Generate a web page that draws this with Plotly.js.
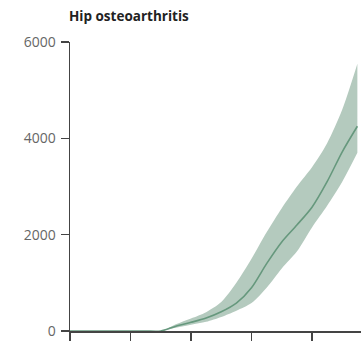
<!DOCTYPE html>
<html>
<head>
<meta charset="utf-8">
<script src="https://cdn.plot.ly/plotly-3.0.1.min.js"></script>
<style>
  html, body { margin: 0; padding: 0; background: #ffffff; }
  #chart { width: 361px; height: 342px; }
</style>
</head>
<body>
<div id="chart"></div>
<script>
// Age (years) at which each estimate is given
const ages = [0, 5, 10, 15, 20, 25, 30, 35, 40, 45, 50, 55, 60, 65, 70, 75, 80, 85, 90, 95];
// Central estimate
const meanValues = [0, 0, 0, 0, 0, 0, 0, 100, 180, 270, 400, 580, 900, 1400, 1850, 2200, 2570, 3100, 3720, 4250];
// Uncertainty interval bounds
const lowerValues = [0, 0, 0, 0, 0, 0, 0, 70, 130, 190, 290, 420, 580, 900, 1300, 1650, 2150, 2600, 3100, 3700];
const upperValues = [0, 0, 0, 0, 0, 0, 0, 140, 260, 390, 600, 1000, 1500, 2050, 2550, 3000, 3400, 3900, 4600, 5550];

const yTickVals = [0, 2000, 4000, 6000];
const yTickText = ['0', '2000', '4000', '6000'];
const xTickVals = [0, 20, 40, 60, 80];

const chartTitle = 'Hip osteoarthritis';

const traces = [
  {
    x: ages, y: lowerValues, type: 'scatter', mode: 'lines',
    line: { width: 0, color: 'rgba(0,0,0,0)', shape: 'spline', smoothing: 0.8 },
    hoverinfo: 'skip', showlegend: false
  },
  {
    x: ages, y: upperValues, type: 'scatter', mode: 'lines',
    fill: 'tonexty', fillcolor: '#b4cabe',
    line: { width: 0, color: 'rgba(0,0,0,0)', shape: 'spline', smoothing: 0.8 },
    hoverinfo: 'skip', showlegend: false
  },
  {
    x: ages, y: meanValues, type: 'scatter', mode: 'lines',
    line: { width: 1.6, color: '#66987d', shape: 'spline', smoothing: 0.8 },
    cliponaxis: false,
    showlegend: false
  }
];

const layout = {
  width: 361, height: 342,
  margin: { l: 70, r: 0, t: 42, b: 11, pad: 0 },
  paper_bgcolor: '#ffffff', plot_bgcolor: '#ffffff',
  font: { family: '"Open Sans", "Noto Sans", sans-serif', color: '#555' },
  title: {
    text: '<b>' + chartTitle + '</b>',
    font: { size: 13.5, color: '#222', family: '"Open Sans", sans-serif' },
    x: 69 / 361, xref: 'container', xanchor: 'left',
    y: 1 - 16 / 342, yref: 'container', yanchor: 'middle'
  },
  xaxis: {
    range: [0, 96.2], fixedrange: true,
    showgrid: false, zeroline: false, layer: 'below traces',
    showline: true, linecolor: '#444', linewidth: 1.5,
    ticks: 'outside', ticklen: 8, tickwidth: 1.5, tickcolor: '#444',
    tickvals: xTickVals, showticklabels: false
  },
  yaxis: {
    range: [0, 6000], fixedrange: true,
    showgrid: false, zeroline: false, layer: 'below traces',
    showline: true, linecolor: '#444', linewidth: 1.5,
    ticks: 'outside', ticklen: 8, tickwidth: 1.5, tickcolor: '#444',
    tickvals: yTickVals, ticktext: yTickText,
    tickfont: { size: 14, color: '#666' }, ticklabelstandoff: 2
  }
};

Plotly.newPlot('chart', traces, layout, { displayModeBar: false, staticPlot: true });
</script>
</body>
</html>
